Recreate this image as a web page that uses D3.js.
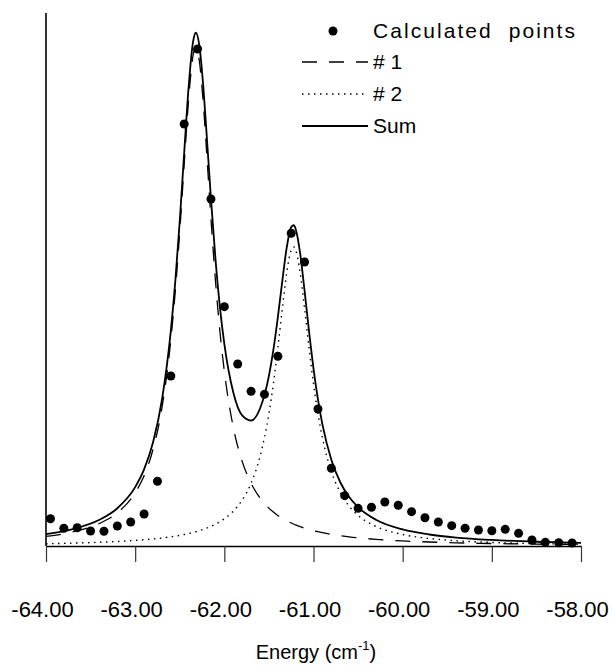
<!DOCTYPE html>
<html>
<head>
<meta charset="utf-8">
<script src="https://cdn.jsdelivr.net/npm/d3@7"></script>
<style>
  body { margin: 0; background: #fff; }
  svg { display: block; font-family: "Liberation Sans", Arial, Helvetica, sans-serif; }
</style>
</head>
<body>
<div id="chart"></div>
<script>
// calculated points (energy in cm-1, intensity in arb. units)
var pointEnergy = [-63.95, -63.80, -63.65, -63.50, -63.35, -63.20, -63.05, -62.90, -62.75, -62.60,
    -62.45, -62.30, -62.15, -62.00, -61.85, -61.70, -61.55, -61.40, -61.25, -61.10,
    -60.95, -60.80, -60.65, -60.50, -60.35, -60.20, -60.05, -59.90, -59.75, -59.60,
    -59.45, -59.30, -59.15, -59.00, -58.85, -58.70, -58.55, -58.40, -58.25, -58.10];
var pointValue = [5.12, 3.32, 3.43, 2.81, 2.76, 3.75, 4.50, 6.00, 12.14, 31.90,
    79.18, 93.25, 65.10, 44.90, 34.15, 29.02, 28.46, 35.59, 58.67, 53.28,
    25.70, 14.58, 9.44, 7.07, 7.26, 8.26, 7.64, 6.44, 5.31, 4.50,
    3.81, 3.32, 3.00, 2.87, 3.13, 2.38, 1.13, 0.69, 0.62, 0.56];

// fitted curves
var curveEnergy = [-64.0, -63.7, -63.4, -63.2, -63.0, -62.9, -62.8, -62.7, -62.6, -62.55,
    -62.5, -62.45, -62.4, -62.35, -62.32, -62.28, -62.24, -62.2, -62.15, -62.1,
    -62.05, -62.0, -61.9, -61.8, -61.7, -61.6, -61.5, -61.45, -61.4, -61.35,
    -61.3, -61.25, -61.22, -61.2, -61.15, -61.1, -61.05, -61.0, -60.95, -60.9,
    -60.8, -60.7, -60.6, -60.5, -60.3, -60.0, -59.7, -59.4, -59.0, -58.5, -58.0];
var peak1 = [1.80, 2.64, 4.23, 6.23, 9.99, 13.20, 18.10, 25.89, 38.69, 47.81,
    58.99, 71.67, 83.90, 92.12, 93.62, 91.00, 83.90, 74.26, 61.45, 49.89,
    40.34, 32.80, 22.31, 15.87, 11.76, 9.01, 7.10, 6.36, 5.73, 5.19,
    4.72, 4.31, 4.08, 3.95, 3.63, 3.35, 3.10, 2.87, 2.68, 2.50,
    2.18, 1.93, 1.71, 1.53, 1.25, 0.95, 0.75, 0.60, 0.47, 0.35, 0.28];
var peak2 = [0.43, 0.54, 0.70, 0.85, 1.05, 1.17, 1.32, 1.50, 1.73, 1.85,
    2.00, 2.16, 2.34, 2.54, 2.67, 2.87, 3.09, 3.33, 3.68, 4.08,
    4.54, 5.10, 6.53, 8.62, 11.78, 16.78, 24.82, 30.43, 37.17, 44.52,
    51.30, 55.52, 56.10, 55.52, 51.30, 44.52, 37.17, 30.43, 24.82, 20.32,
    13.99, 10.03, 7.47, 5.75, 3.68, 2.16, 1.41, 0.99, 0.67, 0.45, 0.32];
var sumCurve = [2.23, 3.18, 4.93, 7.08, 11.04, 14.37, 19.42, 27.39, 40.42, 49.66,
    60.99, 73.83, 86.24, 94.66, 96.29, 93.87, 86.99, 77.59, 65.13, 53.97,
    44.88, 37.90, 28.84, 24.49, 23.54, 25.79, 31.92, 36.79, 42.90, 49.71,
    56.02, 59.83, 60.18, 59.47, 54.93, 47.87, 40.27, 33.30, 27.50, 22.82,
    16.17, 11.96, 9.18, 7.28, 4.93, 3.11, 2.16, 1.59, 1.14, 0.80, 0.60];

var xTicks = [-64, -63, -62, -61, -60, -59, -58];
var legendLabels = ["Calculated  points", "# 1", "# 2", "Sum"];

var width = 615, height = 670;
var svg = d3.select("#chart").append("svg")
    .attr("width", width)
    .attr("height", height);

var x = d3.scaleLinear().domain([-64, -58]).range([46, 581]);
var y = d3.scaleLinear().domain([0, 100]).range([546, 13]);

// axes
svg.append("line")
    .attr("x1", x(-64)).attr("x2", x(-64))
    .attr("y1", y(100)).attr("y2", y(0))
    .attr("stroke", "#000").attr("stroke-width", 1.6);

var xAxis = svg.append("g")
    .attr("transform", "translate(0," + y(0) + ")")
    .call(d3.axisBottom(x)
        .tickValues(xTicks)
        .tickSize(16)
        .tickPadding(39)
        .tickSizeOuter(0)
        .tickFormat(function (d) { return d.toFixed(2); }));
xAxis.select(".domain").attr("stroke", "#000").attr("stroke-width", 1.6);
xAxis.selectAll(".tick line").attr("stroke", "#333").attr("stroke-width", 1.2);
xAxis.selectAll(".tick text")
    .attr("font-size", 22)
    .attr("fill", "#000")
    .attr("dx", -4)
    .style("font-family", "'Liberation Sans', Arial, sans-serif");

var xLabel = svg.append("text")
    .attr("x", 316)
    .attr("y", 659)
    .attr("text-anchor", "middle")
    .attr("font-size", 20)
    .text("Energy (cm");
xLabel.append("tspan").attr("font-size", 13).attr("dy", -9).text("-1");
xLabel.append("tspan").attr("dy", 9).text(")");

// curves
function makeLine(values) {
    return d3.line()
        .x(function (d, i) { return x(curveEnergy[i]); })
        .y(function (d) { return y(d); })
        .curve(d3.curveMonotoneX)(values);
}

svg.append("path")
    .attr("d", makeLine(peak2))
    .attr("fill", "none")
    .attr("stroke", "#000")
    .attr("stroke-width", 1.4)
    .attr("stroke-dasharray", "1.5,4.5");

svg.append("path")
    .attr("d", makeLine(peak1))
    .attr("fill", "none")
    .attr("stroke", "#000")
    .attr("stroke-width", 1.3)
    .attr("stroke-dasharray", "15,12");

svg.append("path")
    .attr("d", makeLine(sumCurve))
    .attr("fill", "none")
    .attr("stroke", "#000")
    .attr("stroke-width", 1.8);

// calculated points
svg.append("g").selectAll("circle")
    .data(pointValue)
    .enter().append("circle")
    .attr("cx", function (d, i) { return x(pointEnergy[i]); })
    .attr("cy", function (d) { return y(d); })
    .attr("r", 4.5)
    .attr("fill", "#000");

// legend
var legend = svg.append("g");
var rowY = [31, 62, 94, 126];
legend.append("circle").attr("cx", 333).attr("cy", rowY[0]).attr("r", 4.5).attr("fill", "#000");
var styles = [null, "15,12", "1.5,4.5", null];
for (var i = 1; i < 4; i++) {
    var ln = legend.append("line")
        .attr("x1", 302).attr("x2", 368)
        .attr("y1", rowY[i]).attr("y2", rowY[i])
        .attr("stroke", "#000")
        .attr("stroke-width", i == 3 ? 1.8 : 1.4);
    if (styles[i]) { ln.attr("stroke-dasharray", styles[i]); }
}
legendLabels.forEach(function (label, i) {
    var t = legend.append("text")
        .attr("x", 373)
        .attr("y", rowY[i] + 7)
        .attr("font-size", 21)
        .style("white-space", "pre")
        .text(label);
    if (i == 0) { t.attr("textLength", 202).attr("lengthAdjust", "spacing"); }
});
</script>
</body>
</html>
